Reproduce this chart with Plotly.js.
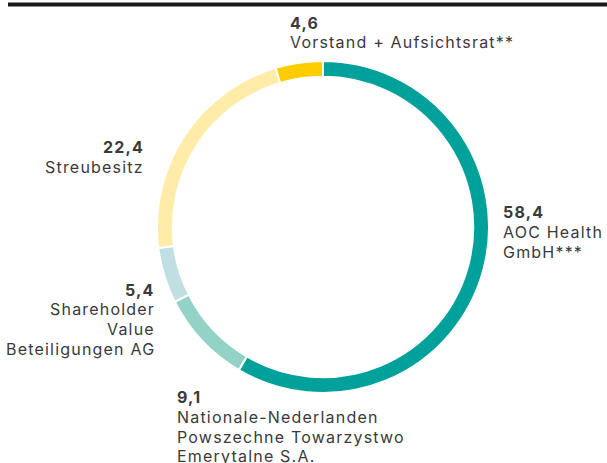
<!DOCTYPE html>
<html><head><meta charset="utf-8">
<script src="https://cdn.plot.ly/plotly-3.0.1.min.js"></script>
<style>html,body{margin:0;padding:0;background:#fff}#c{width:607px;height:463px}
.annotation-text{letter-spacing:1.2px}</style>
</head><body><div id="c"></div>
<script>
const shareholders = ["AOC Health<br>GmbH***", "Nationale-Nederlanden<br>Powszechne Towarzystwo<br>Emerytalne S.A.", "Shareholder<br>Value<br>Beteiligungen AG", "Streubesitz", "Vorstand + Aufsichtsrat**"];
const shares = [58.4, 9.1, 5.4, 22.4, 4.6];
const sliceColors = ["#00A19A", "#93D2C7", "#BFDFE3", "#FFECA8", "#FFCC00"];
// label placement: anchor x (px) and centre of first line (px), alignment
const labelPos = [
  {x:503, y:212, xa:"left"},
  {x:177, y:397, xa:"left"},
  {x:155, y:289.5, xa:"right"},
  {x:144, y:147, xa:"right"},
  {x:290, y:22.5, xa:"left"}
];
const lineGap = 19.8;
const W=607,H=463;
const cx=323, cy=227, R=166;
const fmt = v => v.toFixed(1).replace(".", ",");
const annotations = [];
shares.forEach((v,i)=>{
  const lines = ["<b>"+fmt(v)+"</b>"].concat(shareholders[i].split("<br>"));
  lines.forEach((t,k)=>{
    annotations.push({
      xref:"paper", yref:"paper",
      x: labelPos[i].x/W, y: 1-(labelPos[i].y+k*lineGap)/H,
      xanchor: labelPos[i].xa, yanchor:"middle", align: labelPos[i].xa,
      showarrow:false, borderpad:0, borderwidth:0,
      text: t,
      font:{family:"Inter, Roboto, sans-serif", size:16, color:"#3a3a3a"}
    });
  });
});
const data=[{
  type:"pie", values:shares, labels:shareholders.map(s=>s.replace(/<br>/g," ")),
  hole:0.905, sort:false, direction:"clockwise", rotation:0,
  marker:{colors:sliceColors, line:{color:"#fff", width:2}},
  textinfo:"none", hoverinfo:"label+value",
  domain:{x:[(cx-R)/W,(cx+R)/W], y:[(H-cy-R)/H,(H-cy+R)/H]}
}];
const layout={width:W,height:H,margin:{l:0,r:0,t:0,b:0},showlegend:false,
  paper_bgcolor:"#fff", annotations,
  shapes:[{type:"line", xref:"paper", yref:"paper", x0:8/W, x1:1, y0:1-4.5/H, y1:1-4.5/H, line:{color:"#1a1a1a", width:4}}]
};
Plotly.newPlot("c",data,layout,{displayModeBar:false,staticPlot:true});
</script></body></html>
